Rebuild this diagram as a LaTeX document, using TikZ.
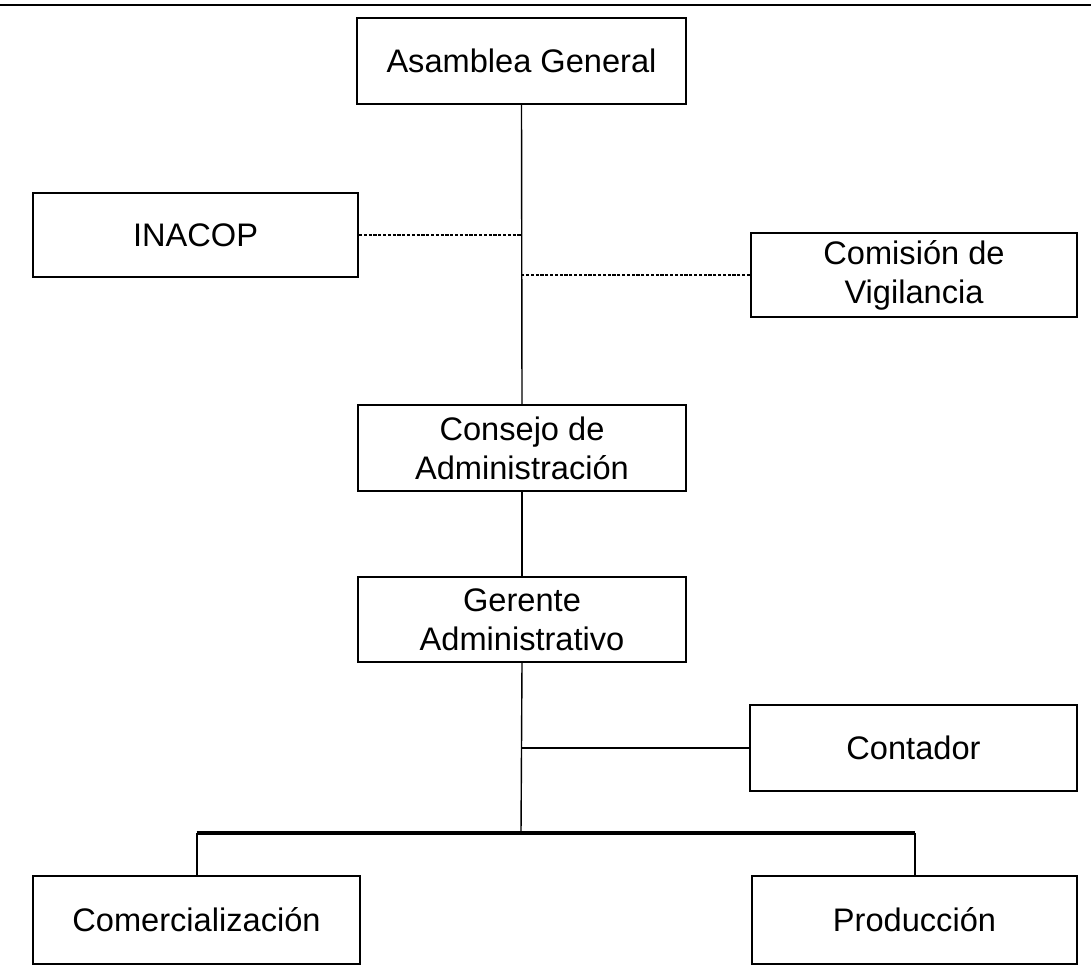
\documentclass[tikz,border=0pt]{standalone}
\usepackage{fontspec}
\setmainfont{Liberation Sans}
\tikzset{
  orgbox/.style={draw, line width=1pt, rectangle, inner sep=0pt, minimum height=43pt,
    align=center, font=\fontsize{16.3}{19.5}\selectfont},
  link/.style={line width=0.7pt},
  weaklink/.style={line width=0.9pt, dash pattern=on 1.6pt off 0.8pt},
}
\begin{document}
\begin{tikzpicture}[x=0.5pt,y=-0.5pt]
    \useasboundingbox (0,0) rectangle (1091,968);
    \draw[line width=1.4pt] (0,5)--(1091,5);
    % boxes
    \node[orgbox, minimum width=164.5pt] (asamblea) at (521.5,61) {Asamblea General};
    \node[orgbox, minimum width=162.5pt, minimum height=42pt] (inacop) at (195.5,235) {INACOP};
    \node[orgbox, minimum width=163pt, minimum height=42pt] (comision) at (914,275) {Comisión de\\Vigilancia};
    \node[orgbox, minimum width=164pt] (consejo) at (522,448) {Consejo de\\Administración};
    \node[orgbox, minimum width=164pt, minimum height=42.5pt] (gerente) at (522,619.5) {Gerente\\Administrativo};
    \node[orgbox, minimum width=163.5pt] (contador) at (913.5,748) {Contador};
    \node[orgbox, minimum width=163.5pt, minimum height=44pt] (comerc) at (196.5,920) {Comercialización};
    \node[orgbox, minimum width=162.5pt, minimum height=44pt] (produccion) at (914.5,920) {Producción};
    \coordinate (bar) at (521,833);
    % lines
    \draw[link] (asamblea.south) -- (consejo.north);
    \draw[weaklink] (inacop.east) -- (inacop.east -| asamblea.south);
    \draw[weaklink] (comision.west) -- (comision.west -| asamblea.south);
    \draw[link] (consejo.south) -- (gerente.north);
    \draw[link] (gerente.south) -- (bar);
    \draw[link] (contador.west) -- (contador.west -| gerente.south);
    \draw[line width=1.6pt] (comerc.north |- bar) -- (produccion.north |- bar);
    \draw[line width=1pt] (comerc.north |- bar) -- (comerc.north);
    \draw[line width=1pt] (produccion.north |- bar) -- (produccion.north);
\end{tikzpicture}
\end{document}
